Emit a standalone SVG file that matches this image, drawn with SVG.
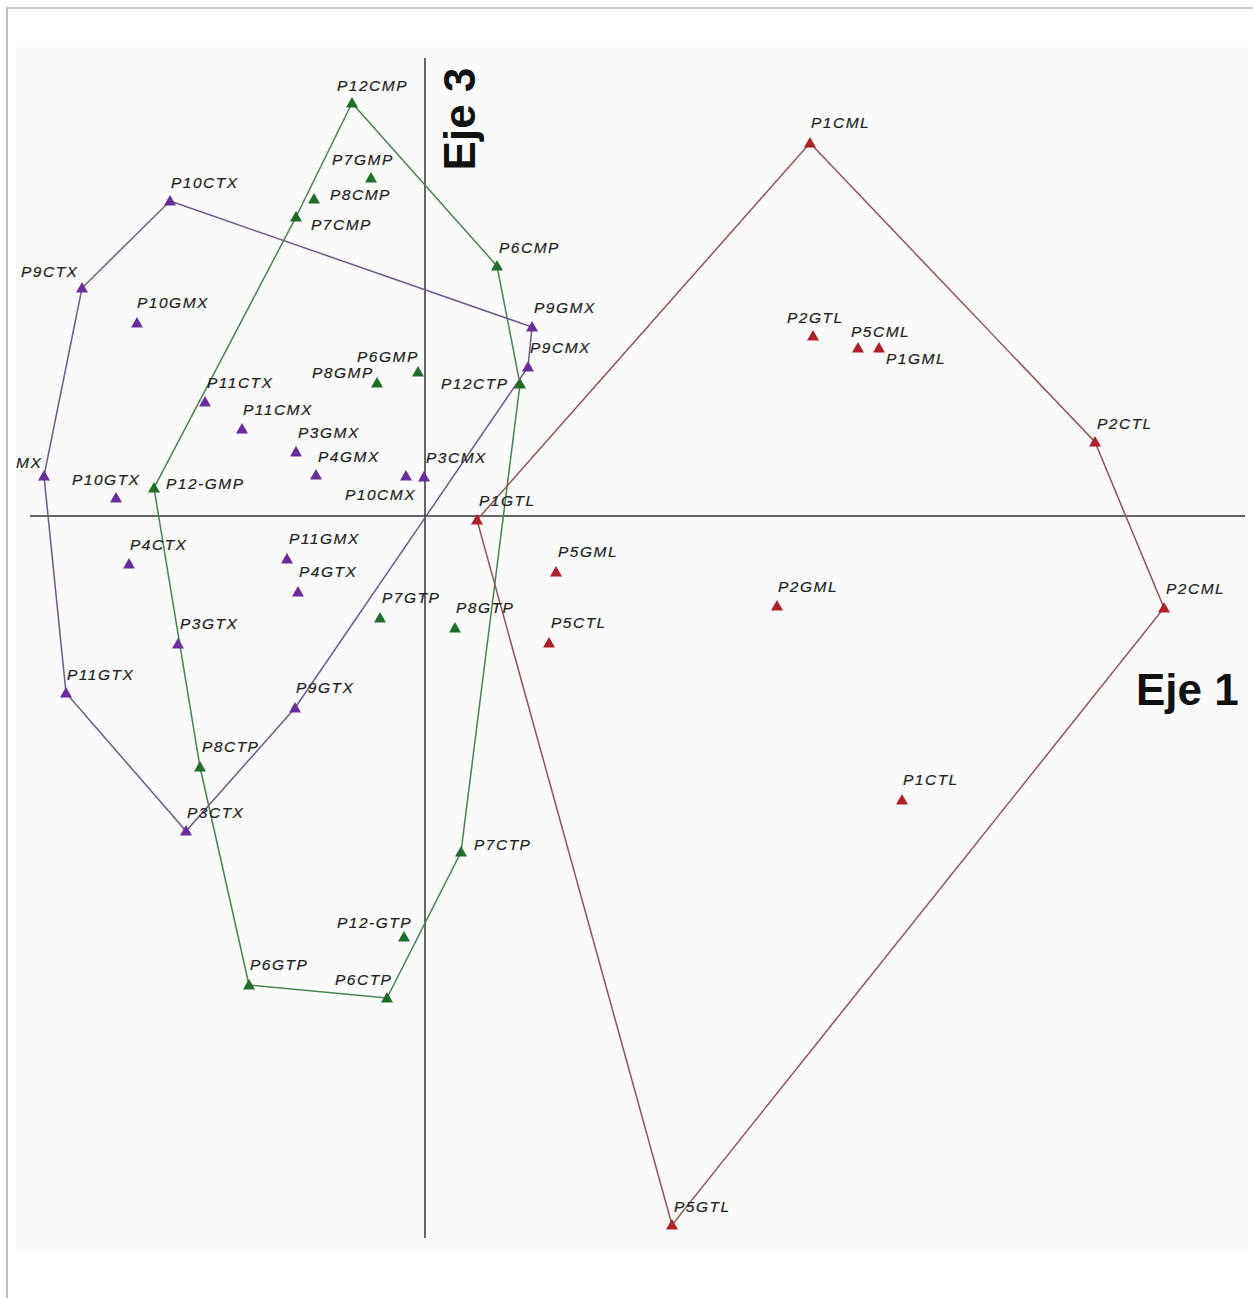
<svg xmlns="http://www.w3.org/2000/svg" xmlns:xlink="http://www.w3.org/1999/xlink" width="1253" height="1298" viewBox="0 0 1253 1298">
<style>
.lbl{font-family:"Liberation Sans",Arial,sans-serif;font-style:italic;font-size:15.5px;letter-spacing:1.5px;fill:#222;stroke:#222;stroke-width:0.2}
.axl{font-family:"Liberation Sans",Arial,sans-serif;font-weight:bold;font-size:44px;fill:#111}
.g{fill:#1e6e2a}
.x{fill:#6a2c9c}
.r{fill:#b01e28}
.hg{fill:none;stroke:#4d7f52;stroke-width:1.5}
.hx{fill:none;stroke:#6f5a86;stroke-width:1.5}
.hr{fill:none;stroke:#8a5656;stroke-width:1.5}
.ax{stroke:#333;stroke-width:1.5}
</style>
<defs>
<path id="tri" d="M0,-6 L6,4.5 L-6,4.5 Z"/>
</defs>
<rect x="0" y="0" width="1253" height="1298" fill="#fff"/>
<line x1="6" y1="8" x2="1253" y2="8" stroke="#b3b3b3" stroke-width="1.5"/>
<line x1="7" y1="8" x2="7" y2="1298" stroke="#bdbdbd" stroke-width="2"/>
<rect x="16" y="46" width="1232" height="1205" fill="#fbfbfb"/>
<g id="axes">
<line class="ax" x1="30" y1="516" x2="1245" y2="516"/>
<line class="ax" x1="425" y1="58" x2="425" y2="1238"/>
<text class="axl" transform="translate(474.5,119) rotate(-90)" text-anchor="middle">Eje 3</text>
<text class="axl" x="1136" y="705">Eje 1</text>
</g>
<g id="connectors">
<polygon class="hg" points="352,103 497,266 520,384 461,852 387,998 249,985 200,767 154,488 296,217"/>
<polygon class="hx" points="170,201 532,327 528,367 295,708 186,831 66,693 44,476 82,288"/>
<polygon class="hr" points="810,143 1095,442 1164,608 672,1225 477,520"/>
</g>
<g id="P12CMP"><use href="#tri" class="g" x="352" y="103"/><text class="lbl" x="337" y="91">P12CMP</text></g>
<g id="P7GMP"><use href="#tri" class="g" x="371" y="178"/><text class="lbl" x="332" y="165">P7GMP</text></g>
<g id="P8CMP"><use href="#tri" class="g" x="314" y="199"/><text class="lbl" x="330" y="200">P8CMP</text></g>
<g id="P7CMP"><use href="#tri" class="g" x="296" y="217"/><text class="lbl" x="311" y="230">P7CMP</text></g>
<g id="P6CMP"><use href="#tri" class="g" x="497" y="266"/><text class="lbl" x="499" y="253">P6CMP</text></g>
<g id="P6GMP"><use href="#tri" class="g" x="418" y="372"/><text class="lbl" x="357" y="362">P6GMP</text></g>
<g id="P8GMP"><use href="#tri" class="g" x="377" y="383"/><text class="lbl" x="312" y="378">P8GMP</text></g>
<g id="P12CTP"><use href="#tri" class="g" x="520" y="384"/><text class="lbl" x="441" y="389">P12CTP</text></g>
<g id="P12-GMP"><use href="#tri" class="g" x="154" y="488"/><text class="lbl" x="166" y="489">P12-GMP</text></g>
<g id="P7GTP"><use href="#tri" class="g" x="380" y="618"/><text class="lbl" x="382" y="603">P7GTP</text></g>
<g id="P8GTP"><use href="#tri" class="g" x="455" y="628"/><text class="lbl" x="456" y="613">P8GTP</text></g>
<g id="P8CTP"><use href="#tri" class="g" x="200" y="767"/><text class="lbl" x="202" y="752">P8CTP</text></g>
<g id="P7CTP"><use href="#tri" class="g" x="461" y="852"/><text class="lbl" x="474" y="850">P7CTP</text></g>
<g id="P12-GTP"><use href="#tri" class="g" x="404" y="937"/><text class="lbl" x="337" y="928">P12-GTP</text></g>
<g id="P6GTP"><use href="#tri" class="g" x="249" y="985"/><text class="lbl" x="250" y="970">P6GTP</text></g>
<g id="P6CTP"><use href="#tri" class="g" x="387" y="998"/><text class="lbl" x="335" y="985">P6CTP</text></g>
<g id="P10CTX"><use href="#tri" class="x" x="170" y="201"/><text class="lbl" x="171" y="188">P10CTX</text></g>
<g id="P9CTX"><use href="#tri" class="x" x="82" y="288"/><text class="lbl" x="21" y="277">P9CTX</text></g>
<g id="P10GMX"><use href="#tri" class="x" x="137" y="323"/><text class="lbl" x="137" y="308">P10GMX</text></g>
<g id="P9GMX"><use href="#tri" class="x" x="532" y="327"/><text class="lbl" x="534" y="313">P9GMX</text></g>
<g id="P9CMX"><use href="#tri" class="x" x="528" y="367"/><text class="lbl" x="530" y="353">P9CMX</text></g>
<g id="P11CTX"><use href="#tri" class="x" x="205" y="402"/><text class="lbl" x="207" y="388">P11CTX</text></g>
<g id="P11CMX"><use href="#tri" class="x" x="242" y="429"/><text class="lbl" x="243" y="415">P11CMX</text></g>
<g id="P3GMX"><use href="#tri" class="x" x="296" y="452"/><text class="lbl" x="298" y="438">P3GMX</text></g>
<g id="P4GMX"><use href="#tri" class="x" x="316" y="475"/><text class="lbl" x="318" y="462">P4GMX</text></g>
<g id="P10CMX"><use href="#tri" class="x" x="406" y="476"/><text class="lbl" x="345" y="500">P10CMX</text></g>
<g id="P3CMX"><use href="#tri" class="x" x="424" y="477"/><text class="lbl" x="426" y="463">P3CMX</text></g>
<g id="MX"><use href="#tri" class="x" x="44" y="476"/><text class="lbl" x="16" y="468">MX</text></g>
<g id="P10GTX"><use href="#tri" class="x" x="116" y="498"/><text class="lbl" x="72" y="485">P10GTX</text></g>
<g id="P4CTX"><use href="#tri" class="x" x="129" y="564"/><text class="lbl" x="130" y="550">P4CTX</text></g>
<g id="P11GMX"><use href="#tri" class="x" x="287" y="559"/><text class="lbl" x="289" y="544">P11GMX</text></g>
<g id="P4GTX"><use href="#tri" class="x" x="298" y="592"/><text class="lbl" x="299" y="577">P4GTX</text></g>
<g id="P3GTX"><use href="#tri" class="x" x="178" y="644"/><text class="lbl" x="180" y="629">P3GTX</text></g>
<g id="P11GTX"><use href="#tri" class="x" x="66" y="693"/><text class="lbl" x="67" y="680">P11GTX</text></g>
<g id="P9GTX"><use href="#tri" class="x" x="295" y="708"/><text class="lbl" x="296" y="693">P9GTX</text></g>
<g id="P3CTX"><use href="#tri" class="x" x="186" y="831"/><text class="lbl" x="187" y="818">P3CTX</text></g>
<g id="P1CML"><use href="#tri" class="r" x="810" y="143"/><text class="lbl" x="811" y="128">P1CML</text></g>
<g id="P2GTL"><use href="#tri" class="r" x="813" y="336"/><text class="lbl" x="787" y="323">P2GTL</text></g>
<g id="P5CML"><use href="#tri" class="r" x="858" y="348"/><text class="lbl" x="851" y="337">P5CML</text></g>
<g id="P1GML"><use href="#tri" class="r" x="879" y="348"/><text class="lbl" x="886" y="364">P1GML</text></g>
<g id="P2CTL"><use href="#tri" class="r" x="1095" y="442"/><text class="lbl" x="1097" y="429">P2CTL</text></g>
<g id="P1GTL"><use href="#tri" class="r" x="477" y="520"/><text class="lbl" x="479" y="506">P1GTL</text></g>
<g id="P5GML"><use href="#tri" class="r" x="556" y="572"/><text class="lbl" x="558" y="557">P5GML</text></g>
<g id="P2GML"><use href="#tri" class="r" x="777" y="606"/><text class="lbl" x="778" y="592">P2GML</text></g>
<g id="P2CML"><use href="#tri" class="r" x="1164" y="608"/><text class="lbl" x="1166" y="594">P2CML</text></g>
<g id="P5CTL"><use href="#tri" class="r" x="549" y="643"/><text class="lbl" x="551" y="628">P5CTL</text></g>
<g id="P1CTL"><use href="#tri" class="r" x="902" y="800"/><text class="lbl" x="903" y="785">P1CTL</text></g>
<g id="P5GTL"><use href="#tri" class="r" x="672" y="1225"/><text class="lbl" x="674" y="1212">P5GTL</text></g>
</svg>
